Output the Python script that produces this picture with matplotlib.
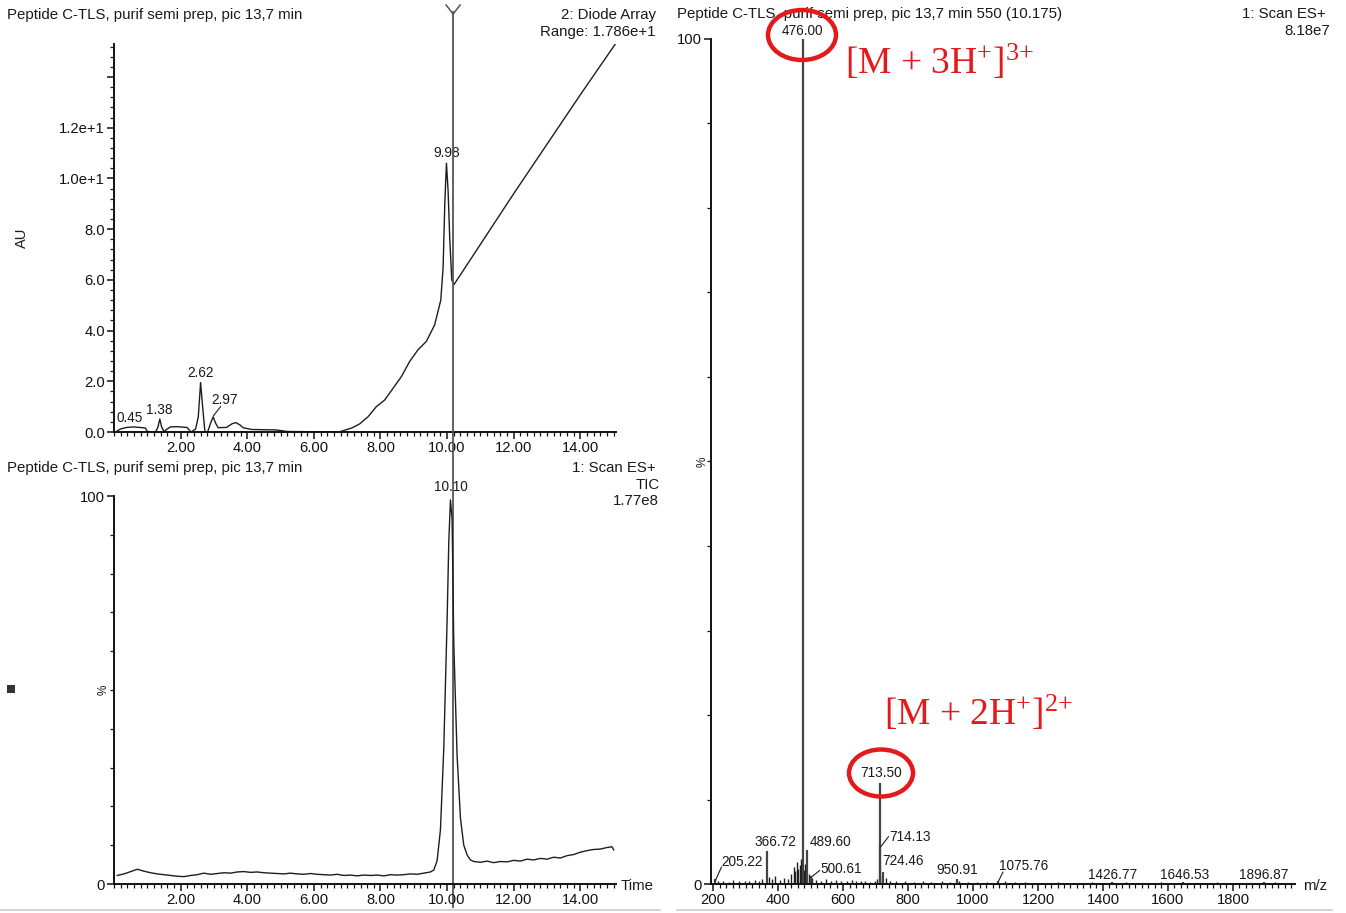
import matplotlib
matplotlib.use('Agg')
import matplotlib.pyplot as plt
from matplotlib.ticker import MultipleLocator, FixedLocator
from matplotlib.patches import Ellipse, Rectangle
import matplotlib.transforms as mtransforms

plt.rcParams['font.family'] = ['Liberation Sans', 'DejaVu Sans']
plt.rcParams['mathtext.fontset'] = 'custom'
plt.rcParams['mathtext.rm'] = 'Liberation Serif'
plt.rcParams['mathtext.it'] = 'Liberation Serif:italic'
plt.rcParams['mathtext.bf'] = 'Liberation Serif:bold'

# ---------------- data ----------------
# Diode array chromatogram (AU vs time, min)
dad_time = [0.1, 0.2, 0.375, 0.6, 0.94, 1.0, 1.25, 1.32, 1.375, 1.43, 1.5, 1.6, 1.69, 1.9, 2.19,
            2.31, 2.45, 2.53, 2.6, 2.66, 2.73, 2.81, 2.9, 2.975, 3.05, 3.125, 3.375, 3.55, 3.66,
            3.78, 3.875, 4.125, 4.875, 5.2, 6.75, 7.125, 7.375, 7.625, 7.875, 8.125, 8.375, 8.625,
            8.875, 9.125, 9.375, 9.625, 9.81, 9.88, 9.93, 9.98, 10.03, 10.08, 10.14, 10.2, 10.45,
            11.0, 12.0, 13.0, 14.0, 15.05]
dad_au = [0.05, 0.12, 0.18, 0.2, 0.16, 0.02, 0.0, 0.2, 0.51, 0.2, 0.02, 0.12, 0.2, 0.21, 0.18,
          0.0, 0.12, 0.6, 1.95, 1.0, 0.0, 0.0, 0.35, 0.6, 0.35, 0.17, 0.18, 0.33, 0.37,
          0.28, 0.17, 0.1, 0.08, 0.02, 0.0, 0.15, 0.32, 0.6, 1.0, 1.26, 1.72, 2.18,
          2.78, 3.24, 3.57, 4.22, 5.2, 6.5, 9.0, 10.6, 9.5, 7.6, 6.0, 5.8, 6.3,
          7.4, 9.4, 11.35, 13.3, 15.3]
dad_peak_labels = ["0.45", "1.38", "2.62", "2.97", "9.98"]

# TIC chromatogram (% vs time, min)
tic_time = [0.1, 0.3, 0.5, 0.7, 0.9, 1.1, 1.3, 1.5, 1.7, 1.9, 2.1, 2.3, 2.5, 2.7, 2.9, 3.1, 3.3,
            3.5, 3.7, 3.9, 4.1, 4.3, 4.5, 4.7, 4.9, 5.1, 5.3, 5.5, 5.7, 5.9, 6.1, 6.3, 6.5, 6.7,
            6.9, 7.1, 7.3, 7.5, 7.7, 7.9, 8.1, 8.3, 8.5, 8.7, 8.9, 9.1, 9.3, 9.5, 9.6, 9.7, 9.8,
            9.9, 10.0, 10.05, 10.1, 10.15, 10.2, 10.3, 10.4, 10.5, 10.6, 10.7, 10.8, 11.0, 11.2,
            11.4, 11.6, 11.8, 12.0, 12.2, 12.4, 12.6, 12.8, 13.0, 13.2, 13.4, 13.6, 13.8, 14.0,
            14.2, 14.4, 14.6, 14.8, 14.95, 15.0]
tic_pct = [2.2, 2.6, 3.2, 3.8, 3.3, 2.9, 2.6, 2.4, 2.2, 2.0, 1.9, 2.2, 2.4, 2.8, 2.5, 2.7, 2.9,
           2.8, 3.1, 3.2, 3.0, 3.1, 2.9, 2.8, 2.7, 2.6, 2.8, 2.6, 2.5, 2.7, 2.5, 2.4, 2.3, 2.5,
           2.2, 2.3, 2.1, 2.3, 2.2, 2.3, 2.1, 2.4, 2.3, 2.4, 2.6, 2.5, 2.8, 3.1, 3.6, 6.0, 14.0,
           35.0, 68.0, 88.0, 99.0, 94.0, 62.0, 33.0, 17.0, 10.0, 7.5, 6.2, 5.8, 5.6, 5.9,
           5.5, 5.8, 5.7, 6.1, 5.9, 6.4, 6.2, 6.6, 6.4, 6.9, 6.7, 7.3, 7.6, 8.2,
           8.6, 8.9, 9.0, 9.4, 9.6, 8.8]
tic_peak_label = "10.10"
cursor_time = 10.18

# Mass spectrum (% vs m/z)
ms_major_mz = [205.22, 366.72, 476.00, 489.60, 500.61, 713.50, 714.13, 724.46, 950.91,
               1075.76, 1426.77, 1646.53, 1896.87]
ms_major_pct = [0.6, 3.9, 100.0, 4.0, 1.0, 12.0, 4.5, 1.4, 0.6, 0.3, 0.2, 0.2, 0.2]
ms_minor_mz = [215, 232, 248, 262, 281, 297, 310, 328, 341, 352, 372, 381, 392, 405, 418, 431,
               440, 448, 452, 458, 463, 468, 471, 480, 484, 494, 505, 518, 533, 547, 562, 578,
               594, 611, 627, 640, 655, 668, 683, 699, 706, 719, 731, 745, 762, 790, 818, 845,
               872, 905, 930, 957, 985, 1012, 1043, 1098, 1130, 1160, 1215, 1260, 1310, 1365,
               1410, 1470, 1520, 1580, 1630, 1690, 1750, 1810, 1870, 1930, 1975]
ms_minor_pct = [0.3, 0.4, 0.2, 0.5, 0.3, 0.4, 0.3, 0.5, 0.4, 0.6, 0.8, 0.6, 1.0, 0.5, 0.7, 0.6,
                1.2, 2.0, 1.5, 2.6, 1.8, 2.2, 3.0, 1.6, 2.4, 1.2, 0.7, 0.5, 0.4, 0.6, 0.3, 0.5,
                0.4, 0.3, 0.5, 0.3, 0.4, 0.3, 0.2, 0.4, 0.6, 0.9, 0.7, 0.4, 0.3, 0.3, 0.2, 0.3,
                0.2, 0.3, 0.2, 0.4, 0.2, 0.2, 0.2, 0.3, 0.2, 0.2, 0.1, 0.2, 0.1, 0.2,
                0.1, 0.2, 0.1, 0.2, 0.1, 0.1, 0.2, 0.1, 0.1, 0.2, 0.1]

title_left = "Peptide C-TLS, purif semi prep, pic 13,7 min"
title_right = "Peptide C-TLS, purif semi prep, pic 13,7 min 550 (10.175)"

# ---------------- figure ----------------
W, H = 1346, 913
fig = plt.figure(figsize=(W / 100, H / 100), dpi=100)
fig.patch.set_facecolor('white')


def rect(l, t, r, b):
    return [l / W, 1 - b / H, (r - l) / W, (b - t) / H]


def fx(px):
    return px / W


def fy(py):
    return 1 - py / H


LINE = '#1e1e1e'
TXT = '#1a1a1a'
TICK_FS = 10.6


def style(ax):
    for s in ['top', 'right']:
        ax.spines[s].set_visible(False)
    for s in ['left', 'bottom']:
        ax.spines[s].set_linewidth(1.4)
        ax.spines[s].set_color('#111111')
    ax.tick_params(which='major', direction='out', length=5, width=1.1, labelsize=TICK_FS,
                   pad=1.5, colors='#111111')
    ax.tick_params(which='minor', direction='out', length=3, width=0.9, colors='#111111')
    ax.patch.set_alpha(0)


# ---- top-left: diode array ----
ax1 = fig.add_axes(rect(114, 44, 616, 432))
style(ax1)
ax1.plot(dad_time, dad_au, color=LINE, lw=1.0)
ax1.set_xlim(0, 15.07)
ax1.set_ylim(0, 15.3)
ax1.xaxis.set_major_locator(FixedLocator([2, 4, 6, 8, 10, 12, 14]))
ax1.set_xticklabels(['2.00', '4.00', '6.00', '8.00', '10.00', '12.00', '14.00'])
ax1.xaxis.set_minor_locator(MultipleLocator(0.2))
ax1.yaxis.set_major_locator(FixedLocator([0, 2, 4, 6, 8, 10, 12, 14]))
ax1.set_yticklabels(['0.0', '2.0', '4.0', '6.0', '8.0', '1.0e+1', '1.2e+1', ''])
ax1.yaxis.set_minor_locator(MultipleLocator(0.4))
ax1.set_ylabel('AU', fontsize=10.5, labelpad=22, color=TXT)
lab_pos = [(0.47, 0.55), (1.37, 0.87), (2.6, 2.32), (3.32, 1.26), (9.98, 11.0)]
for lab, (xx, yy) in zip(dad_peak_labels, lab_pos):
    ax1.text(xx, yy, lab, fontsize=9.8, ha='center', va='center', color=TXT)
ax1.plot([2.99, 3.2], [0.65, 1.0], color=LINE, lw=0.8)

# ---- bottom-left: TIC ----
ax2 = fig.add_axes(rect(114, 496, 616, 884))
style(ax2)
ax2.plot(tic_time, tic_pct, color=LINE, lw=1.0)
ax2.set_xlim(0, 15.07)
ax2.set_ylim(0, 100)
ax2.xaxis.set_major_locator(FixedLocator([2, 4, 6, 8, 10, 12, 14]))
ax2.set_xticklabels(['2.00', '4.00', '6.00', '8.00', '10.00', '12.00', '14.00'])
ax2.xaxis.set_minor_locator(MultipleLocator(0.2))
ax2.yaxis.set_major_locator(FixedLocator([0, 100]))
ax2.set_yticklabels(['0', '100'])
ax2.yaxis.set_minor_locator(MultipleLocator(10))
ax2.text(-0.12, 50, '%', rotation=90, fontsize=8.5, ha='right', va='center', color=TXT)
ax2.text(10.1, 102.3, tic_peak_label, fontsize=9.8, ha='center', va='center', color=TXT,
         clip_on=False)

# ---- right: mass spectrum ----
ax3 = fig.add_axes(rect(711, 39, 1295, 884))
style(ax3)
ax3.vlines(ms_minor_mz, 0, ms_minor_pct, color=LINE, lw=1.0)
ax3.vlines(ms_major_mz, 0, ms_major_pct, color='#444444', lw=1.6)
ax3.set_xlim(193.8, 1990.8)
ax3.set_ylim(0, 100)
ax3.xaxis.set_major_locator(MultipleLocator(200))
ax3.xaxis.set_minor_locator(MultipleLocator(20))
ax3.yaxis.set_major_locator(FixedLocator([0, 100]))
ax3.set_yticklabels(['0', '100'])
ax3.yaxis.set_minor_locator(MultipleLocator(10))
ax3.text(188, 50, '%', rotation=90, fontsize=8.5, ha='right', va='center', color=TXT,
         clip_on=False)

ms_label_info = [
    # (label, x, y, ha, leader)
    ("205.22", 226, 2.6, 'left', [(206, 0.3), (226, 2.0)]),
    ("366.72", 391, 5.0, 'center', None),
    ("489.60", 497, 5.0, 'left', None),
    ("500.61", 530, 1.8, 'left', [(502, 0.8), (528, 1.6)]),
    ("476.00", 476, 101.0, 'center', None),
    ("713.50", 717, 13.1, 'center', None),
    ("714.13", 742, 5.6, 'left', [(716, 4.4), (740, 5.6)]),
    ("724.46", 722, 2.7, 'left', None),
    ("950.91", 951, 1.7, 'center', None),
    ("1075.76", 1080, 2.1, 'left', [(1078, 0.3), (1092, 1.4)]),
    ("1426.77", 1428, 1.1, 'center', None),
    ("1646.53", 1652, 1.1, 'center', None),
    ("1896.87", 1895, 1.1, 'center', None),
]
for lab, xx, yy, ha, leader in ms_label_info:
    ax3.text(xx, yy, lab, fontsize=9.8, ha=ha, va='center', color=TXT, clip_on=False)
    if leader:
        ax3.plot([leader[0][0], leader[1][0]], [leader[0][1], leader[1][1]],
                 color=LINE, lw=0.8, clip_on=False)

# ---------------- header texts ----------------
fs_h = 10.8
fig.text(fx(7), fy(15), title_left, fontsize=fs_h, ha='left', va='center', color=TXT)
fig.text(fx(656), fy(15), "2: Diode Array", fontsize=fs_h, ha='right', va='center', color=TXT)
fig.text(fx(656), fy(32), "Range: 1.786e+1", fontsize=fs_h, ha='right', va='center', color=TXT)

fig.text(fx(7), fy(468), title_left, fontsize=fs_h, ha='left', va='center', color=TXT)
fig.text(fx(656), fy(468), "1: Scan ES+", fontsize=fs_h, ha='right', va='center', color=TXT)
fig.text(fx(660), fy(485), "TIC", fontsize=fs_h, ha='right', va='center', color=TXT)
fig.text(fx(659), fy(501), "1.77e8", fontsize=fs_h, ha='right', va='center', color=TXT)
fig.text(fx(621), fy(886), "Time", fontsize=fs_h, ha='left', va='center', color=TXT)

fig.text(fx(677), fy(14), title_right, fontsize=fs_h, ha='left', va='center', color=TXT)
fig.text(fx(1326), fy(14), "1: Scan ES+", fontsize=fs_h, ha='right', va='center', color=TXT)
fig.text(fx(1330), fy(31), "8.18e7", fontsize=fs_h, ha='right', va='center', color=TXT)
fig.text(fx(1303), fy(886), "m/z", fontsize=fs_h, ha='left', va='center', color=TXT)

# ---------------- cursor line across left panels ----------------
blend = mtransforms.blended_transform_factory(ax1.transData, fig.transFigure)
ax1.plot([cursor_time, cursor_time], [fy(12), fy(907)], transform=blend, color='#555555',
         lw=1.3, clip_on=False, zorder=5)
cx = ax1.transData.transform((cursor_time, 0))[0]
fig.add_artist(plt.Line2D([cx / W, (cx - 7) / W], [fy(14), fy(5)], color='#555555', lw=1.1))
fig.add_artist(plt.Line2D([cx / W, (cx + 7) / W], [fy(14), fy(5)], color='#555555', lw=1.1))

# ---------------- separators and marker ----------------
fig.add_artist(plt.Line2D([fx(0), fx(660)], [fy(910), fy(910)], color='#cccccc', lw=1.2))
fig.add_artist(plt.Line2D([fx(677), fx(1332)], [fy(910), fy(910)], color='#cccccc', lw=1.2))
fig.add_artist(Rectangle((fx(7), fy(693)), 8 / W, 8 / H, transform=fig.transFigure,
                         facecolor='#333333', edgecolor='none'))

# ---------------- red annotations ----------------
RED = '#e3191b'
fig.add_artist(Ellipse((fx(802), fy(35)), 68 / W, 50 / H, transform=fig.transFigure,
                       fill=False, edgecolor=RED, lw=3.2, zorder=10))
fig.add_artist(Ellipse((fx(881), fy(773)), 64 / W, 47 / H, transform=fig.transFigure,
                       fill=False, edgecolor=RED, lw=3.2, zorder=10))
fig.text(fx(845), fy(62), r"[M + 3H$^{{+}}$]$^{3{+}}$", fontsize=27, family='Liberation Serif',
         color=RED, ha='left', va='center')
fig.text(fx(884), fy(713), r"[M + 2H$^{{+}}$]$^{2{+}}$", fontsize=27, family='Liberation Serif',
         color=RED, ha='left', va='center')

fig.savefig('out.png', dpi=100, facecolor='white')
